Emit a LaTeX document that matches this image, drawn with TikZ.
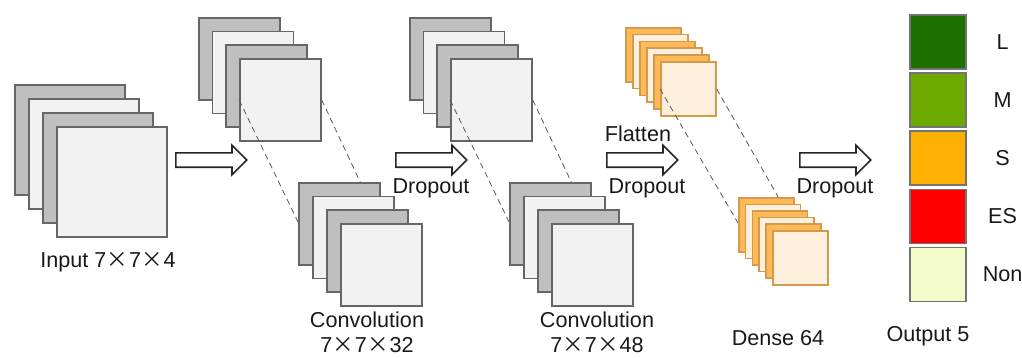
\documentclass[tikz,border=0pt]{standalone}
\usepackage{fontspec}
\setmainfont{Liberation Sans}
\newfontfamily\cjkfont{Noto Sans CJK SC}
\usetikzlibrary{shapes.arrows}
\definecolor{gdark}{HTML}{BFBFBF}
\definecolor{glight}{HTML}{F2F2F2}
\definecolor{gline}{HTML}{666666}
\definecolor{odark}{HTML}{FFB957}
\definecolor{olight}{HTML}{FFF0DD}
\definecolor{oline}{HTML}{D49A4C}
\definecolor{cL}{HTML}{1E7000}
\definecolor{cM}{HTML}{6DAA00}
\definecolor{cS}{HTML}{FFB000}
\definecolor{cES}{HTML}{FF0000}
\definecolor{cNon}{HTML}{F3FCC9}
\newcommand{\bytimes}{\makebox[1.05em]{\cjkfont ×}}

\begin{document}
\begin{tikzpicture}[x=0.5pt,y=-0.5pt]
  \tikzstyle{every node}=[inner sep=0pt,font=\fontsize{10.8}{12.5}\selectfont,text=black!90]
  \tikzstyle{sheet}=[draw=gline,line width=0.8pt,anchor=north west]
  \tikzstyle{bigsheet}=[sheet,minimum width=55pt,minimum height=55pt]
  \tikzstyle{midsheet}=[sheet,minimum width=40.5pt,minimum height=41pt]
  \tikzstyle{osheet}=[draw=oline,line width=0.8pt,anchor=north west,minimum width=27.5pt,minimum height=27pt]
  \tikzstyle{guide}=[draw=black!65,densely dashed,line width=0.4pt]
  \tikzstyle{fatarrow}=[single arrow,draw=black!85,fill=white,line width=0.8pt,inner sep=3.2pt,single arrow head extend=3.8pt,minimum height=35.5pt,anchor=tail]
  \tikzstyle{outbox}=[draw=black!55,line width=0.8pt,anchor=north west,minimum width=28pt,minimum height=27pt]

  \useasboundingbox (0,0) rectangle (1022,358);

  % input
  \foreach \i/\c in {0/gdark,1/glight,2/gdark,3/glight}
    \node[bigsheet,fill=\c] (in\i) at (14+14*\i,84+14*\i) {};
  \node (inlab) at (108,262) {Input 7\bytimes7\bytimes4};
  \node[fatarrow] (arA) at (175,160) {};

  % first convolution
  \foreach \i/\c in {0/gdark,1/glight,2/gdark,3/glight}
    \node[midsheet,fill=\c] (cvA\i) at (198+13.7*\i,17+13.7*\i) {};
  \draw[guide] (cvA3.west) -- (298,222);
  \draw[guide] (cvA3.east) -- (379,222);
  \foreach \i/\c in {0/gdark,1/glight,2/gdark,3/glight}
    \node[midsheet,fill=\c] (cvB\i) at (298+14*\i,182+13.7*\i) {};
  \node[align=center] (cvlabA) at (367,332) {Convolution\\7\bytimes7\bytimes32};
  \node[fatarrow] (arB) at (395,160) {};
  \node (dropA) at (431,188) {Dropout};

  % second convolution
  \foreach \i/\c in {0/gdark,1/glight,2/gdark,3/glight}
    \node[midsheet,fill=\c] (cwA\i) at (409+13.7*\i,17+13.7*\i) {};
  \draw[guide] (cwA3.west) -- (509,222);
  \draw[guide] (cwA3.east) -- (590,222);
  \foreach \i/\c in {0/gdark,1/glight,2/gdark,3/glight}
    \node[midsheet,fill=\c] (cwB\i) at (509+14*\i,182+13.7*\i) {};
  \node[align=center] (cvlabB) at (597,332) {Convolution\\7\bytimes7\bytimes48};
  \node[fatarrow] (arC) at (606,160) {};
  \node (flat) at (638,134) {Flatten};
  \node (dropB) at (647,188) {Dropout};

  % dense
  \foreach \i/\c in {0/odark,1/olight,2/odark,3/olight,4/odark,5/olight}
    \node[osheet,fill=\c] (dnA\i) at (625+7*\i,27+6.8*\i) {};
  \draw[guide] (dnA5.west) -- (738,223);
  \draw[guide] (dnA5.east) -- (793,223);
  \foreach \i/\c in {0/odark,1/olight,2/odark,3/olight,4/odark,5/olight}
    \node[osheet,fill=\c] (dnB\i) at (738+6.8*\i,197+6.6*\i) {};
  \node (dnlab) at (778,338) {Dense 64};
  \node[fatarrow] (arD) at (799,160) {};
  \node (dropC) at (835,188) {Dropout};

  % output
  \foreach \n [count=\k from 0] in {L,M,S,ES,Non} {
    \node[outbox,fill=c\n] (o\n) at (909,14+58.2*\k) {};
    \node (t\n) at ([xshift=18pt]o\n.east) {\n};
  }
  \node (outlab) at (928,336) {Output 5};
\end{tikzpicture}
\end{document}
